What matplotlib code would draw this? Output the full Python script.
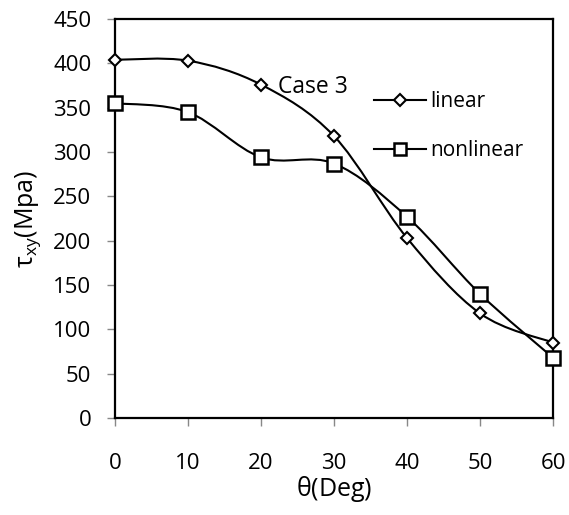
import numpy as np
import matplotlib
matplotlib.use("Agg")
import matplotlib.pyplot as plt
from matplotlib.path import Path
from matplotlib.patches import PathPatch
from matplotlib.lines import Line2D

# data
theta = [0, 10, 20, 30, 40, 50, 60]
tau_linear = [404, 403, 376, 318, 203, 118, 85]
tau_nonlinear = [355, 345, 294, 287, 227, 140, 68]
y_ticks = [0, 50, 100, 150, 200, 250, 300, 350, 400, 450]
x_ticks = [0, 10, 20, 30, 40, 50, 60]

plt.rcParams['font.family'] = ['Open Sans', 'DejaVu Sans']
plt.rcParams['mathtext.fontset'] = 'custom'
plt.rcParams['mathtext.rm'] = 'Open Sans'


# Excel-like smoothed line (cardinal spline as cubic bezier)
def smooth_path(x, y, t=1/6):
    x = np.asarray(x, float)
    y = np.asarray(y, float)
    n = len(x)
    verts = [(x[0], y[0])]
    codes = [Path.MOVETO]
    for i in range(n - 1):
        x0, y0 = (x[i - 1], y[i - 1]) if i > 0 else (x[i], y[i])
        x3, y3 = (x[i + 2], y[i + 2]) if i + 2 < n else (x[i + 1], y[i + 1])
        c1 = (x[i] + (x[i + 1] - x0) * t, y[i] + (y[i + 1] - y0) * t)
        c2 = (x[i + 1] - (x3 - x[i]) * t, y[i + 1] - (y3 - y[i]) * t)
        verts += [c1, c2, (x[i + 1], y[i + 1])]
        codes += [Path.CURVE4] * 3
    return Path(verts, codes)


fig = plt.figure(figsize=(5.69, 5.15), dpi=100)
ax = fig.add_axes([115 / 569, 97 / 515, 438 / 569, 399 / 515])

for ys in (tau_linear, tau_nonlinear):
    ax.add_patch(PathPatch(smooth_path(theta, ys), fill=False, lw=1.5,
                           edgecolor='black', zorder=2))

ax.plot(theta, tau_linear, ls='none', marker='D', ms=6, mfc='white',
        mec='black', mew=1.5, zorder=3, clip_on=False)
ax.plot(theta, tau_nonlinear, ls='none', marker='s', ms=9.5, mfc='white',
        mec='black', mew=1.8, zorder=3, clip_on=False)

ax.set_xlim(0, 60)
ax.set_ylim(0, 450)
ax.set_xticks(x_ticks)
ax.set_yticks(y_ticks)
ax.tick_params(direction='out', length=6, width=1, labelsize=16,
               color='#888888')
ax.tick_params(axis='y', pad=11)
ax.tick_params(axis='x', pad=19)
for s in ax.spines.values():
    s.set_linewidth(1.6)

ax.set_xlabel(r'$\mathregular{\theta}$(Deg)', fontsize=18, labelpad=0)
ax.set_ylabel(r'$\mathregular{\tau_{xy}}$(Mpa)', fontsize=18, labelpad=7)

ax.text(22.3, 373, 'Case 3', fontsize=16.5, ha='left', va='center')

handles = [
    Line2D([], [], color='black', lw=1.5, marker='D', ms=6, mfc='white',
           mec='black', mew=1.5),
    Line2D([], [], color='black', lw=1.5, marker='s', ms=8, mfc='white',
           mec='black', mew=1.8),
]
ax.legend(handles, ['linear', 'nonlinear'], loc='upper left',
          bbox_to_anchor=(0.591, 0.82), frameon=False, fontsize=15,
          borderpad=0, borderaxespad=0,
          handlelength=2.5, handletextpad=0.2, labelspacing=1.35)

fig.savefig('out.png', dpi=100)
